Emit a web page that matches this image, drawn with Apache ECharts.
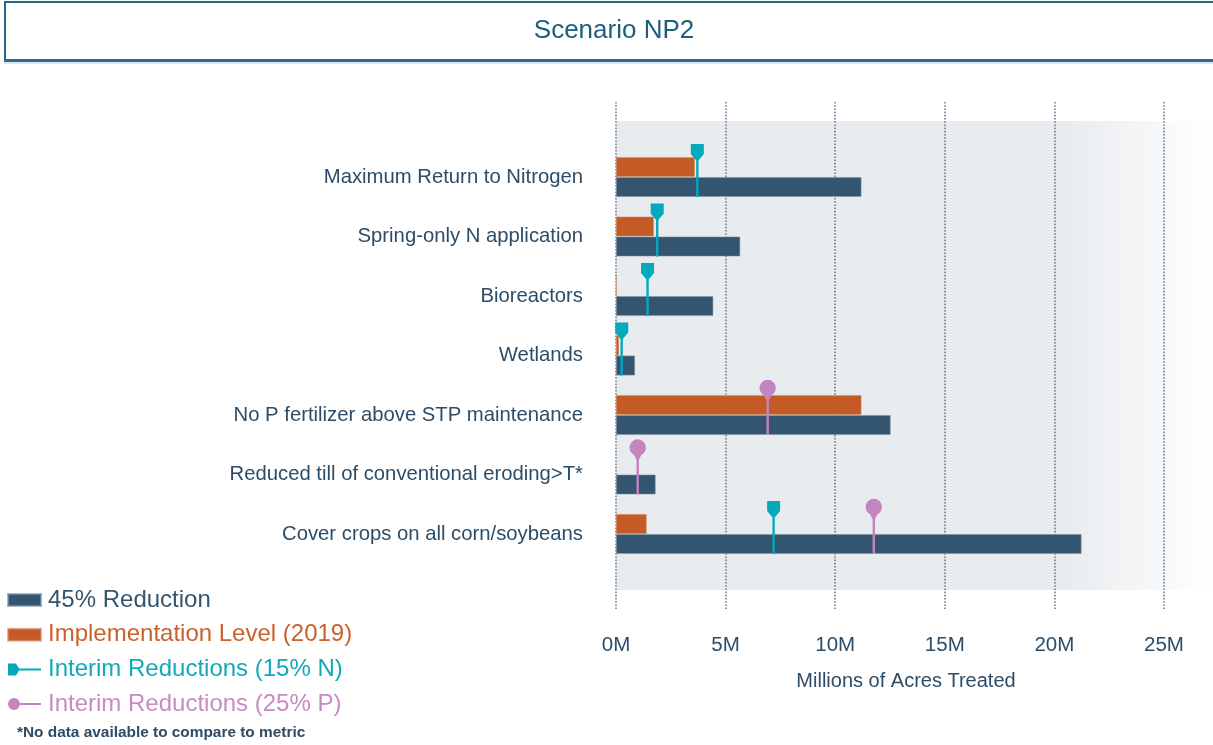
<!DOCTYPE html>
<html>
<head>
<meta charset="utf-8">
<title>Scenario NP2</title>
<script src="https://cdn.jsdelivr.net/npm/echarts@6/dist/echarts.min.js"></script>
<style>
  html, body { margin: 0; padding: 0; background: #ffffff; }
  #chart { width: 1213px; height: 745px; }
</style>
</head>
<body>
<div id="chart"></div>
<script>
// Practices, listed top to bottom
var practices = [
  'Maximum Return to Nitrogen',
  'Spring-only N application',
  'Bioreactors',
  'Wetlands',
  'No P fertilizer above STP maintenance',
  'Reduced till of conventional eroding>T*',
  'Cover crops on all corn/soybeans'
];

// Millions of acres treated
var reduction45 = [11.20, 5.67, 4.44, 0.87, 12.53, 1.81, 21.24];
var implementation2019 = [3.60, 1.73, 0.03, 0.14, 11.20, null, 1.40];

// Interim targets: [acres (M), practice index]
var interimN15 = [[3.71, 0], [1.88, 1], [1.44, 2], [0.26, 3], [7.19, 6]];
var interimP25 = [[6.92, 4], [0.99, 5], [11.76, 6]];

var axisTicks = [0, 5, 10, 15, 20, 25];

var NAVY = '#34556f';
var ORANGE = '#c45b26';
var TEAL = '#04a9bb';
var PINK = '#c385bf';
var TEXT = '#2c4c67';
var SANS = "'Liberation Sans', Arial, sans-serif";

// Vertical stem with a tag or a round head above the bar pair
function pinRenderer(color, head) {
  return function (params, api) {
    var p = api.coord([api.value(0), api.value(1)]);
    var x = p[0], c = p[1];
    var kids = [{
      type: 'line',
      shape: { x1: x, y1: c - 18, x2: x, y2: c + 20 },
      style: { stroke: color, lineWidth: 2.4 }
    }];
    if (head === 'tag') {
      kids.push({
        type: 'polygon',
        shape: { points: [[x - 6.5, c - 33], [x + 6.5, c - 33], [x + 6.5, c - 23], [x + 1.5, c - 17], [x - 1.5, c - 17], [x - 6.5, c - 23]] },
        style: { fill: color }
      });
    } else {
      kids.push({
        type: 'circle',
        shape: { cx: x, cy: c - 27, r: 8.2 },
        style: { fill: color }
      });
      kids.push({
        type: 'polygon',
        shape: { points: [[x - 5, c - 22], [x + 5, c - 22], [x + 1.3, c - 15], [x - 1.3, c - 15]] },
        style: { fill: color }
      });
    }
    return { type: 'group', children: kids };
  };
}

var chart = echarts.init(document.getElementById('chart'), null, { renderer: 'canvas' });

var xMax = axisTicks[axisTicks.length - 1];
var xStep = axisTicks[1] - axisTicks[0];

chart.setOption({
  animation: false,
  backgroundColor: '#ffffff',
  graphic: [
    {
      type: 'rect',
      shape: { x: 5, y: 2, width: 1230, height: 58 },
      style: { fill: '#ffffff', stroke: '#236985', lineWidth: 2 }
    },
    {
      type: 'line',
      shape: { x1: 4, y1: 60.5, x2: 1213, y2: 60.5 },
      style: { stroke: '#2a6d8a', lineWidth: 3 }
    },
    {
      type: 'line',
      shape: { x1: 4, y1: 63, x2: 1213, y2: 63 },
      style: { stroke: '#b7cdd8', lineWidth: 1 }
    },
    {
      type: 'text',
      style: {
        text: 'Scenario NP2', x: 614, y: 31,
        textAlign: 'center', textVerticalAlign: 'middle',
        fill: '#1d5e7c', font: "26px " + SANS
      }
    },
    {
      type: 'text',
      style: {
        text: '*No data available to compare to metric', x: 17, y: 733,
        textAlign: 'left', textVerticalAlign: 'middle',
        fill: TEXT, font: "bold 15.4px " + SANS
      }
    }
  ],
  legend: {
    orient: 'vertical',
    left: 2,
    top: 583,
    itemWidth: 33,
    itemHeight: 12,
    itemGap: 10.7,
    selectedMode: false,
    textStyle: { fontFamily: SANS, fontSize: 24, padding: [0, 0, 0, 2] },
    data: [
      { name: '45% Reduction', icon: 'rect', textStyle: { color: NAVY } },
      { name: 'Implementation Level (2019)', icon: 'rect', textStyle: { color: '#c9612c' } },
      { name: 'Interim Reductions (15% N)', icon: 'path://M0,0H8L11,5H33V7H11L8,12H0Z', textStyle: { color: '#13a9ba' } },
      { name: 'Interim Reductions (25% P)', icon: 'path://M6,0A6,6 0 1,1 6,12A6,6 0 1,1 6,0ZM12,5H33V7H12Z', textStyle: { color: '#c68bc1' } }
    ]
  },
  grid: [
    { left: 616, width: 548, top: 147.25, height: 416.5 },
    { left: 616, width: 548, top: 102, height: 507 },
    {
      left: 616, right: 0, top: 121, height: 469, show: true, borderWidth: 0,
      backgroundColor: {
        type: 'linear', x: 0, y: 0, x2: 1, y2: 0,
        colorStops: [
          { offset: 0, color: '#e9ecef' },
          { offset: 0.76, color: '#e9ecef' },
          { offset: 1, color: 'rgba(233,236,239,0)' }
        ]
      }
    }
  ],
  xAxis: [
    { gridIndex: 0, type: 'value', min: 0, max: xMax, interval: xStep, show: false },
    {
      gridIndex: 1, type: 'value', min: 0, max: xMax, interval: xStep,
      axisLine: { show: false }, axisTick: { show: false },
      splitLine: { show: true, lineStyle: { color: '#6f7f92', width: 1.6, type: [1.6, 1.6] } },
      axisLabel: {
        margin: 26, color: TEXT, fontFamily: SANS, fontSize: 20.5,
        formatter: function (v) { return v + 'M'; }
      },
      name: 'Millions of Acres Treated',
      nameLocation: 'middle',
      nameGap: 62,
      nameTextStyle: { color: TEXT, fontFamily: SANS, fontSize: 20, padding: [0, 0, 0, 32] }
    },
    { gridIndex: 2, type: 'value', show: false }
  ],
  yAxis: [
    {
      gridIndex: 0, type: 'category', data: practices, inverse: true,
      axisLine: { show: false }, axisTick: { show: false }, splitLine: { show: false },
      axisLabel: { margin: 33, color: TEXT, fontFamily: SANS, fontSize: 20.3, padding: [5, 0, 0, 0] }
    },
    { gridIndex: 1, type: 'value', show: false },
    { gridIndex: 2, type: 'value', show: false }
  ],
  series: [
    {
      name: 'Implementation Level (2019)', type: 'bar',
      xAxisIndex: 0, yAxisIndex: 0,
      data: implementation2019, barWidth: 20, barGap: '0%',
      itemStyle: { color: ORANGE, borderColor: 'rgba(214,140,100,0.6)', borderWidth: 0.8 }
    },
    {
      name: '45% Reduction', type: 'bar',
      xAxisIndex: 0, yAxisIndex: 0,
      data: reduction45, barWidth: 20, barGap: '0%',
      itemStyle: { color: NAVY, borderColor: 'rgba(130,150,170,0.7)', borderWidth: 0.8 }
    },
    {
      name: 'Interim Reductions (15% N)', type: 'custom',
      xAxisIndex: 0, yAxisIndex: 0,
      data: interimN15, encode: { x: 0, y: 1 },
      itemStyle: { color: TEAL },
      renderItem: pinRenderer(TEAL, 'tag'), z: 5
    },
    {
      name: 'Interim Reductions (25% P)', type: 'custom',
      xAxisIndex: 0, yAxisIndex: 0,
      data: interimP25, encode: { x: 0, y: 1 },
      itemStyle: { color: PINK },
      renderItem: pinRenderer(PINK, 'round'), z: 5
    }
  ]
});
</script>
</body>
</html>
